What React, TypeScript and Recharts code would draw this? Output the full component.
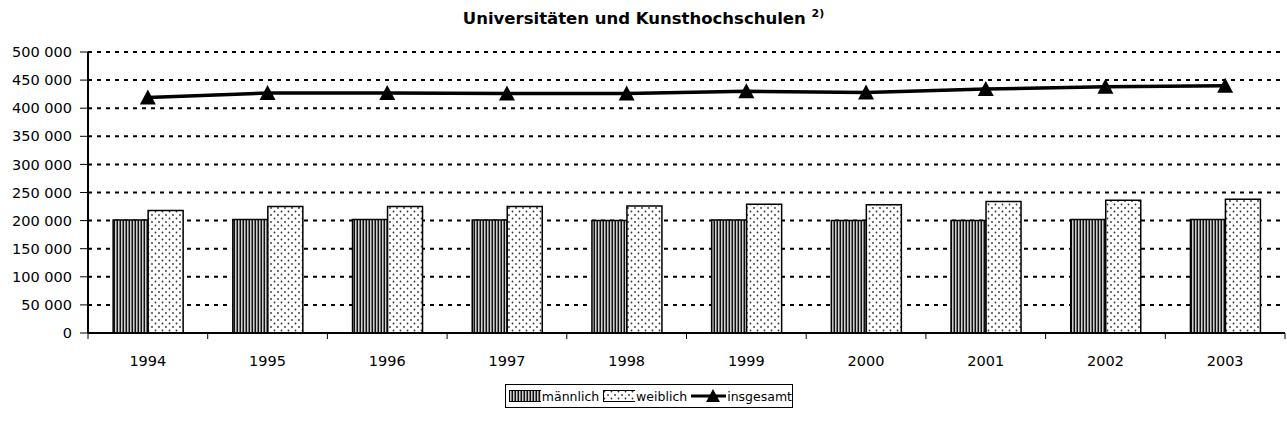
import {
  ComposedChart,
  Bar,
  Line,
  XAxis,
  YAxis,
  CartesianGrid,
} from 'recharts';

// Data
const years = ['1994', '1995', '1996', '1997', '1998', '1999', '2000', '2001', '2002', '2003'];
const maennlich = [201000, 202000, 202000, 201000, 200000, 201000, 200000, 200000, 202000, 202000];
const weiblich = [218000, 225000, 225000, 225000, 226000, 229000, 228000, 234000, 236000, 238000];
const insgesamt = [419000, 427000, 427000, 426000, 426000, 430000, 428000, 434000, 438000, 440000];
const yTicks = [0, 50000, 100000, 150000, 200000, 250000, 300000, 350000, 400000, 450000, 500000];

const data = years.map((year, i) => ({
  year,
  maennlich: maennlich[i],
  weiblich: weiblich[i],
  insgesamt: insgesamt[i],
}));

const W = 1287;
const H = 430;
const font = '"DejaVu Sans", sans-serif';
const plotLeft = 88;
const plotRight = 1285;
const band = (plotRight - plotLeft) / years.length;

const fmt = (v: number) => String(v).replace(/\B(?=(\d{3})+(?!\d))/g, ' ');

const Patterns = ({ suffix }: { suffix: string }) => (
  <defs>
    <pattern id={`stripes${suffix}`} width="3" height="3" patternUnits="userSpaceOnUse">
      <rect width="3" height="3" fill="#cfcfcf" />
      <rect x="0" width="1" height="3" fill="#111" />
      <rect x="2" width="1" height="3" fill="#777" />
    </pattern>
    <pattern id={`dots${suffix}`} width="7" height="7" patternUnits="userSpaceOnUse">
      <rect width="7" height="7" fill="#fff" />
      <circle cx="1.5" cy="1.5" r="0.9" fill="#333" />
      <circle cx="5" cy="5" r="0.9" fill="#333" />
    </pattern>
  </defs>
);

// year label plus small tick marks on the category boundaries
const YearTick = (props: any) => {
  const { x, y, payload, index } = props;
  return (
    <g>
      <line x1={x - band / 2} x2={x - band / 2} y1={y} y2={y + 6} stroke="#000" strokeWidth={1} />
      {index === years.length - 1 && (
        <line x1={x + band / 2} x2={x + band / 2} y1={y} y2={y + 6} stroke="#000" strokeWidth={1} />
      )}
      <text x={x} y={y + 33} textAnchor="middle" fontFamily={font} fontSize={14.5} fill="#000">
        {payload.value}
      </text>
    </g>
  );
};

const Triangle = (props: any) => {
  const { cx, cy } = props;
  if (cx == null || cy == null) return null;
  return <path d={`M${cx},${cy - 8} L${cx + 8},${cy + 7} L${cx - 8},${cy + 7} Z`} fill="#000" />;
};

const LegendBox = () => (
  <div
    style={{
      position: 'absolute',
      left: 505,
      top: 384,
      width: 288,
      height: 24,
      border: '1px solid #000',
      boxSizing: 'border-box',
      display: 'flex',
      alignItems: 'center',
      fontFamily: font,
      fontSize: 12.5,
      color: '#000',
    }}
  >
    <svg width={40} height={12} style={{ marginLeft: 3 }}>
      <Patterns suffix="L" />
      <rect x={0.5} y={0.5} width={39} height={11} fill="url(#stripesL)" stroke="#000" />
    </svg>
    <span style={{ marginLeft: 1 }}>männlich</span>
    <svg width={40} height={12} style={{ marginLeft: 4 }}>
      <rect x={0.5} y={0.5} width={39} height={11} fill="url(#dotsL)" stroke="#000" />
    </svg>
    <span style={{ marginLeft: 1 }}>weiblich</span>
    <svg width={44} height={16} style={{ marginLeft: 4 }}>
      <line x1={0} x2={44} y1={8} y2={8} stroke="#000" strokeWidth={3} />
      <path d="M22,1 L29,14 L15,14 Z" fill="#000" />
    </svg>
    <span style={{ marginLeft: 1 }}>insgesamt</span>
  </div>
);

export default function App() {
  return (
    <div style={{ position: 'absolute', left: 0, top: 0, width: W, height: H, background: '#fff' }}>
      <div
        style={{
          position: 'absolute',
          left: 0,
          top: 7,
          width: W,
          textAlign: 'center',
          fontFamily: font,
          fontSize: 16.5,
          fontWeight: 'bold',
          color: '#000',
        }}
      >
        Universitäten und Kunsthochschulen <sup style={{ fontSize: 11 }}>2)</sup>
      </div>
      <ComposedChart
        width={W}
        height={H}
        data={data}
        margin={{ top: 52, right: 2, bottom: 67, left: 0 }}
        barCategoryGap="21%"
        barGap={0}
      >
        <Patterns suffix="C" />
        <CartesianGrid vertical={false} stroke="#000" strokeWidth={2} strokeDasharray="4 5" />
        <XAxis
          dataKey="year"
          height={30}
          axisLine={{ stroke: '#000', strokeWidth: 2 }}
          tickLine={false}
          tickSize={0}
          tickMargin={0}
          tick={<YearTick />}
          interval={0}
        />
        <XAxis xAxisId="top" dataKey="year" orientation="top" height={0} tick={false} tickLine={false} axisLine={{ stroke: '#000', strokeWidth: 2 }} />
        <YAxis
          width={88}
          domain={[0, 500000]}
          ticks={yTicks}
          interval={0}
          tickFormatter={fmt}
          axisLine={{ stroke: '#000', strokeWidth: 2 }}
          tickLine={{ stroke: '#000' }}
          tickSize={8}
          tickMargin={8}
          tick={{ fontFamily: font, fontSize: 14.5, fill: '#000' }}
        />
        <YAxis yAxisId="right" orientation="right" width={0} domain={[0, 500000]} tick={false} tickLine={false} axisLine={{ stroke: '#000', strokeWidth: 2 }} />
        <Bar dataKey="maennlich" fill="url(#stripesC)" stroke="#000" strokeWidth={1.5} isAnimationActive={false} />
        <Bar dataKey="weiblich" fill="url(#dotsC)" stroke="#000" strokeWidth={1.5} isAnimationActive={false} />
        <Line
          dataKey="insgesamt"
          stroke="#000"
          strokeWidth={3.5}
          dot={<Triangle />}
          activeDot={false}
          isAnimationActive={false}
        />
      </ComposedChart>
      <LegendBox />
    </div>
  );
}
